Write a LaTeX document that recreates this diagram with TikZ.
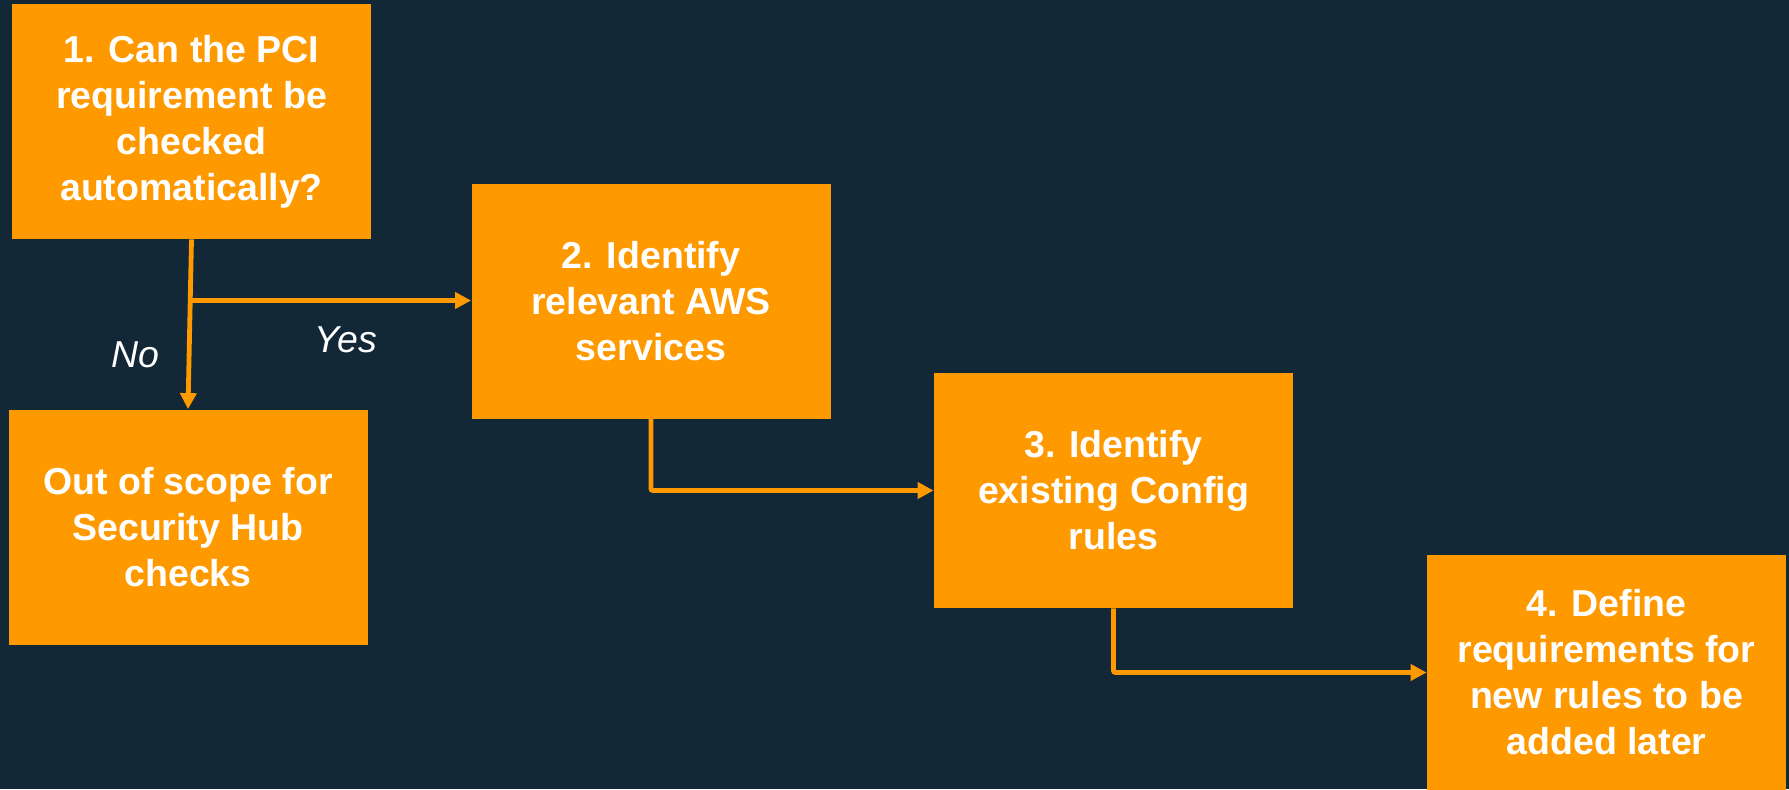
\documentclass[tikz,border=0pt]{standalone}
\usepackage{fontspec}
\setmainfont{Liberation Sans}
\usepackage{tikz}
\usetikzlibrary{arrows.meta,calc,positioning}
\definecolor{awsorange}{RGB}{255,153,0}
\definecolor{inkbg}{RGB}{18,40,55}
\newcommand{\boxfont}{\fontsize{18.75}{23}\selectfont\bfseries}

\begin{document}
\begin{tikzpicture}[x=0.5pt,y=-0.5pt,>={Triangle[length=8pt,width=8pt]},
  stepbox/.style={fill=awsorange,text=white,minimum width=179.5pt,minimum height=117.5pt,
    inner sep=0pt,align=center,font=\boxfont},
  flow/.style={->,awsorange,line width=2.4pt,rounded corners=1pt},
  answer/.style={text=white,font=\fontsize{18.75}{23}\selectfont\itshape}]
% background
\fill[inkbg] (0,0) rectangle (1789,789);
\useasboundingbox (0,0) rectangle (1789,789);
% steps
\node[stepbox] (check) at (191.5,121.5) {1. Can the PCI\\requirement be\\checked\\automatically?};
\node[stepbox] (scope) at (188,527) {Out of scope for\\Security Hub\\checks};
\node[stepbox] (services) at (651,301) {2. Identify\\relevant AWS\\services};
\node[stepbox] (rules) at (1113.5,490.5) {3. Identify\\existing Config\\rules};
\node[stepbox] (define) at (1606.5,672.5) {4. Define\\requirements for\\new rules to be\\added later};
% branch point on the No line
\coordinate (fork) at ($(check.south)!0.36!(scope.north)$);
% connectors
\draw[flow] (check.south) -- (scope.north);
\draw[flow] (fork) -- (fork -| services.west);
\draw[flow] (services.south) |- (rules.west);
\draw[flow] (rules.south) |- (define.west);
% answers
\node[answer] (no) at (135,355) {No};
\node[answer] (yes) at (346,340) {Yes};
\end{tikzpicture}
\end{document}
